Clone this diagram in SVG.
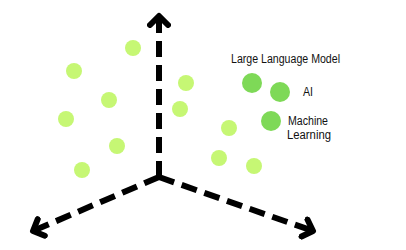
<svg xmlns="http://www.w3.org/2000/svg" width="406" height="250" viewBox="0 0 406 250">
  <style>
    .axis { fill: none; stroke: #000; stroke-width: 6; stroke-dasharray: 16 8; }
    .dot { fill: #c6f774; }
    .key { fill: #7ed957; }
    .lbl { font-family: "Liberation Sans", "DejaVu Sans", sans-serif; font-size: 12.5px; fill: #111; }
  </style>
  <defs>
    <marker id="chev" viewBox="-12 -12 24 24" markerWidth="24" markerHeight="24" refX="0" refY="0" orient="auto" markerUnits="userSpaceOnUse">
      <path d="M-9,-9 L0,0 L-9,9" fill="none" stroke="#000" stroke-width="6" stroke-linecap="round" stroke-linejoin="round"/>
    </marker>
  </defs>
  <rect width="406" height="250" fill="#fff"/>

  <!-- three axes from the origin -->
  <g id="axes">
    <path class="axis" d="M159,177 L159,16" marker-end="url(#chev)"/>
    <path class="axis" d="M159,177 L33,231" marker-end="url(#chev)"/>
    <path class="axis" d="M159,177 L313,231" marker-end="url(#chev)"/>
  </g>

  <!-- scattered points -->
  <g id="points">
    <circle class="dot" cx="133" cy="48" r="8"/>
    <circle class="dot" cx="74" cy="71" r="8"/>
    <circle class="dot" cx="186" cy="83" r="8"/>
    <circle class="dot" cx="109" cy="100" r="8"/>
    <circle class="dot" cx="180" cy="109" r="8"/>
    <circle class="dot" cx="66" cy="119" r="8"/>
    <circle class="dot" cx="117" cy="146" r="8"/>
    <circle class="dot" cx="82" cy="170" r="8"/>
    <circle class="dot" cx="229" cy="128" r="8"/>
    <circle class="dot" cx="219" cy="158" r="8"/>
    <circle class="dot" cx="254" cy="166" r="8"/>
  </g>

  <g id="llm">
    <circle class="key" cx="252" cy="83" r="10"/>
    <text class="lbl" x="231" y="63" textLength="109" lengthAdjust="spacingAndGlyphs">Large Language Model</text>
  </g>
  <g id="ai">
    <circle class="key" cx="280" cy="92" r="10"/>
    <text class="lbl" x="303" y="96" textLength="10" lengthAdjust="spacingAndGlyphs">AI</text>
  </g>
  <g id="ml">
    <circle class="key" cx="271" cy="121" r="10"/>
    <text class="lbl" x="288" y="125" textLength="40" lengthAdjust="spacingAndGlyphs">Machine</text>
    <text class="lbl" x="287" y="139" textLength="44" lengthAdjust="spacingAndGlyphs">Learning</text>
  </g>
</svg>
